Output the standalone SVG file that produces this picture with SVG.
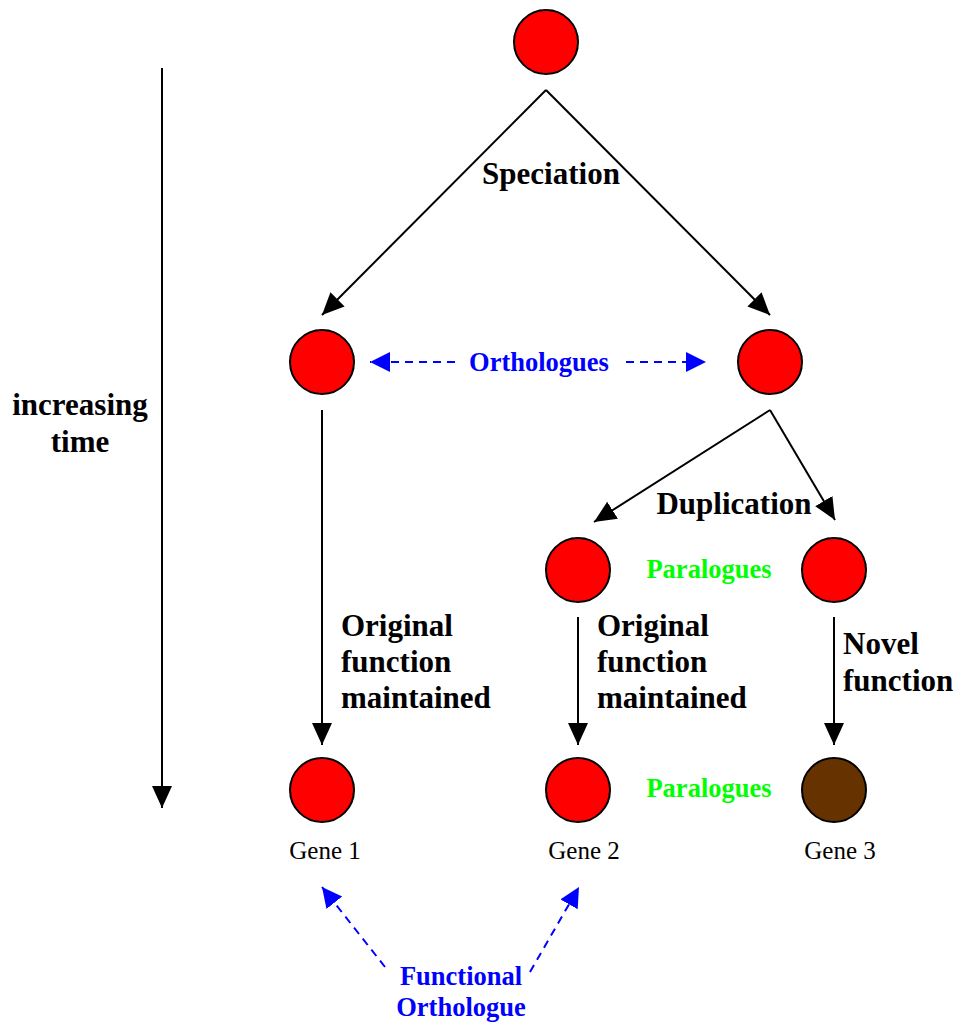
<svg xmlns="http://www.w3.org/2000/svg" width="961" height="1023" viewBox="0 0 961 1023">
<style>
.node{stroke:#000;stroke-width:2}
.red{fill:#FF0000}
.brown{fill:#663300}
.ln{stroke:#000;stroke-width:2;fill:none}
.dash{stroke:#0000FF;stroke-width:2;fill:none;stroke-dasharray:8 6}
.lbl{font-family:"Liberation Serif","Times New Roman",serif;font-weight:bold;font-size:31px;fill:#000}
.blue{font-family:"Liberation Serif","Times New Roman",serif;font-weight:bold;font-size:26.5px;fill:#0000FF}
.green{font-family:"Liberation Serif","Times New Roman",serif;font-weight:bold;font-size:26.5px;fill:#00FF00}
.gene{font-family:"Liberation Serif","Times New Roman",serif;font-size:25px;fill:#000}
</style>
<defs>
<marker id="ah" markerUnits="userSpaceOnUse" markerWidth="24" markerHeight="22" refX="22" refY="10" orient="auto">
<path d="M0,0 L22,10 L0,20 Z" fill="#000"/>
</marker>
<marker id="bh" markerUnits="userSpaceOnUse" markerWidth="24" markerHeight="22" refX="20" refY="10" orient="auto">
<path d="M0,0 L20,10 L0,20 Z" fill="#0000FF"/>
</marker>
</defs>
<g id="connectors">
<line class="ln" x1="162" y1="68" x2="162" y2="808" marker-end="url(#ah)"/>
<line class="ln" x1="546" y1="90" x2="322" y2="315" marker-end="url(#ah)"/>
<line class="ln" x1="546" y1="90" x2="770" y2="315" marker-end="url(#ah)"/>
<line class="dash" x1="455" y1="362" x2="370" y2="362" marker-end="url(#bh)"/>
<line class="dash" x1="626" y1="362" x2="706" y2="362" marker-end="url(#bh)"/>
<line class="ln" x1="322" y1="410" x2="322" y2="745" marker-end="url(#ah)"/>
<line class="ln" x1="770" y1="410" x2="594" y2="522" marker-end="url(#ah)"/>
<line class="ln" x1="770" y1="410" x2="835" y2="520" marker-end="url(#ah)"/>
<line class="ln" x1="578" y1="617" x2="578" y2="745" marker-end="url(#ah)"/>
<line class="ln" x1="834" y1="617" x2="834" y2="745" marker-end="url(#ah)"/>
<line class="dash" x1="385" y1="967" x2="322" y2="887" marker-end="url(#bh)"/>
<line class="dash" x1="530" y1="972" x2="579" y2="887" marker-end="url(#bh)"/>
</g>
<g id="root"><circle class="node red" cx="546" cy="42" r="32"/></g>
<g id="species1"><circle class="node red" cx="322" cy="362" r="32"/></g>
<g id="species2"><circle class="node red" cx="770" cy="362" r="32"/></g>
<g id="dup1"><circle class="node red" cx="578" cy="570" r="32"/></g>
<g id="dup2"><circle class="node red" cx="834" cy="570" r="32"/></g>
<g id="gene1"><circle class="node red" cx="322" cy="790" r="32"/><text class="gene" x="325" y="859" text-anchor="middle">Gene 1</text></g>
<g id="gene2"><circle class="node red" cx="578" cy="790" r="32"/><text class="gene" x="584" y="859" text-anchor="middle">Gene 2</text></g>
<g id="gene3"><circle class="node brown" cx="834" cy="790" r="32"/><text class="gene" x="840" y="859" text-anchor="middle">Gene 3</text></g>
<g id="labels">
<text class="lbl" x="551" y="184" text-anchor="middle">Speciation</text>
<text class="lbl" x="80" y="415" text-anchor="middle">increasing</text>
<text class="lbl" x="80" y="452" text-anchor="middle">time</text>
<text class="blue" x="539" y="371" text-anchor="middle">Orthologues</text>
<text class="lbl" x="734" y="514" text-anchor="middle">Duplication</text>
<text class="green" x="709" y="578" text-anchor="middle">Paralogues</text>
<text class="green" x="709" y="797" text-anchor="middle">Paralogues</text>
<text class="lbl" x="341" y="636">Original</text>
<text class="lbl" x="341" y="672">function</text>
<text class="lbl" x="341" y="708">maintained</text>
<text class="lbl" x="597" y="636">Original</text>
<text class="lbl" x="597" y="672">function</text>
<text class="lbl" x="597" y="708">maintained</text>
<text class="lbl" x="843" y="654">Novel</text>
<text class="lbl" x="843" y="691">function</text>
<text class="blue" x="461" y="985" text-anchor="middle">Functional</text>
<text class="blue" x="461" y="1016" text-anchor="middle">Orthologue</text>
</g>
</svg>
